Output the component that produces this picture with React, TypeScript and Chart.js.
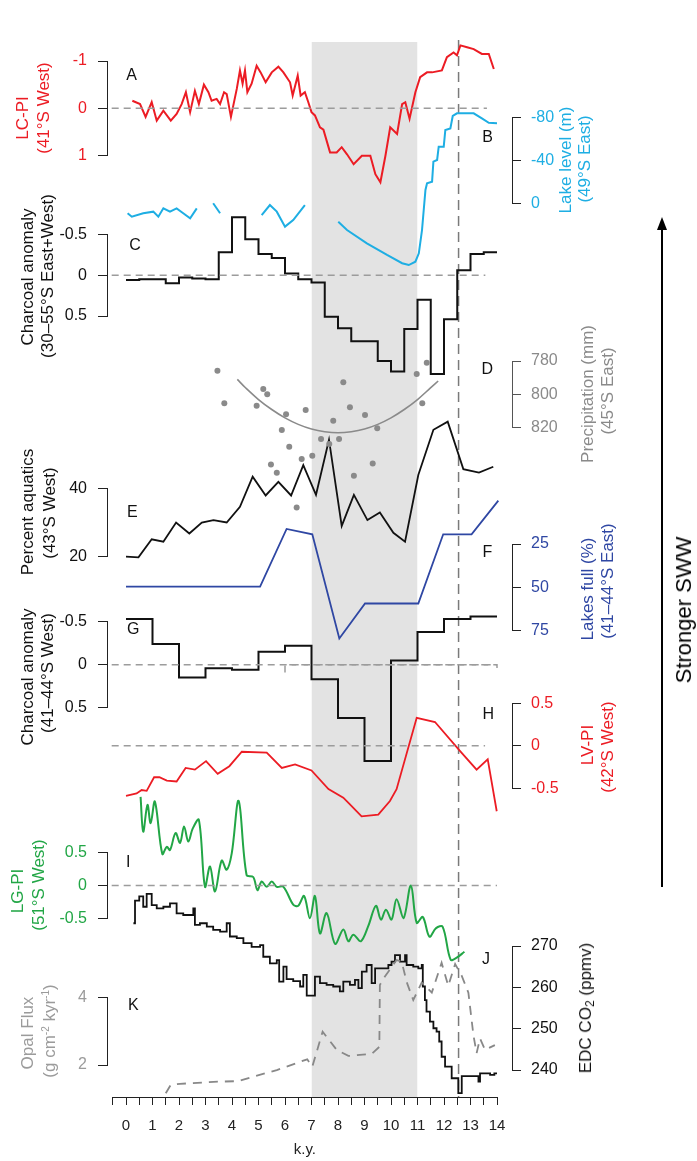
import React, { useEffect, useRef } from 'react';
import { Chart, registerables } from 'chart.js';

Chart.register(...registerables);

const FONT = '"Liberation Sans", Arial, Helvetica, sans-serif';
Chart.defaults.font.family = FONT;

// ---------------- data (ages in k.y.) ----------------
const xTickValues = [-0.5, 0, 0.5, 1, 1.5, 2, 2.5, 3, 3.5, 4, 4.5, 5, 5.5, 6, 6.5, 7, 7.5, 8, 8.5, 9, 9.5, 10, 10.5, 11, 11.5, 12, 12.5, 13, 13.5, 14];
const xTickLabels = ['0', '1', '2', '3', '4', '5', '6', '7', '8', '9', '10', '11', '12', '13', '14'];

const shadedInterval = [7, 11];
const markerAge = 12.55;

// A  LC-PI (41°S West)
const lcPiAge = [0.24, 0.53, 0.74, 0.97, 1.16, 1.41, 1.69, 1.91, 2.1, 2.26, 2.42, 2.6, 2.75, 2.94, 3.11, 3.23, 3.42, 3.55, 3.7, 3.8, 3.96, 4.18, 4.3, 4.4, 4.49, 4.58, 4.74, 4.93, 5.08, 5.27, 5.5, 5.75, 5.94, 6.19, 6.29, 6.48, 6.59, 6.75, 6.88, 7.0, 7.13, 7.32, 7.45, 7.7, 7.95, 8.14, 8.34, 8.59, 8.9, 9.22, 9.41, 9.6, 9.79, 9.97, 10.23, 10.42, 10.54, 10.7, 10.92, 11.1, 11.36, 11.55, 11.92, 12.11, 12.36, 12.49, 12.62, 12.87, 13.12, 13.43, 13.69, 13.88];
const lcPiValue = [-0.16, -0.09, 0.18, -0.13, 0.26, 0.05, 0.26, 0.12, -0.09, -0.34, 0.08, -0.37, -0.09, -0.5, -0.34, -0.16, -0.2, -0.09, -0.34, -0.3, 0.18, -0.41, -0.8, -0.52, -0.8, -0.34, -0.52, -0.9, -0.76, -0.55, -0.76, -0.88, -0.76, -0.55, -0.27, -0.69, -0.27, -0.34, -0.13, 0.08, 0.15, 0.4, 0.45, 0.93, 0.93, 0.82, 0.97, 1.18, 1.0, 1.0, 1.39, 1.56, 1.0, 0.4, 0.54, -0.09, -0.13, 0.22, -0.34, -0.66, -0.76, -0.76, -0.8, -1.08, -1.18, -1.12, -1.33, -1.29, -1.25, -1.15, -1.15, -0.83];
const lcPiTicks = [-1, 0, 1];
const lcPiZero = [-0.54, 13.62];

// B  Lake level (m) (49°S East)
const lakeLevelAge = [0.06, 0.22, 0.65, 1.03, 1.22, 1.41, 1.66, 1.91, 2.16, 2.42, 2.67, 3.0, 3.29, 3.55, 4.5, 5.12, 5.43, 5.69, 6.0, 6.31, 6.75, 7.5, 8.01, 8.34, 9.09, 9.85, 10.42, 10.67, 10.92, 11.05, 11.17, 11.3, 11.36, 11.55, 11.6, 11.74, 11.8, 11.99, 12.05, 12.24, 12.33, 12.49, 13.12, 13.43, 13.69, 14.0];
const lakeLevelValue = [9.3, 12.5, 9.3, 7.8, 12.5, 4.7, 7.8, 4.7, 9.3, 14, 4.7, null, 0, 9.3, null, 11, 1.6, 7.8, 21.8, 15.6, 1.6, null, 17.2, 25, 37.4, 48.3, 56, 57.7, 54.6, 46.7, 25, -12.4, -18.7, -20.2, -38.9, -40.5, -52.9, -52.9, -68.5, -70, -81.6, -84.1, -84.1, -79.4, -75.3, -74.8];
const lakeLevelTicks = [-80, -40, 0];

// C  Charcoal anomaly (30–55°S East+West)
const charcoalAllAge = [0, 0.5, 1.0, 1.5, 2.0, 2.5, 3.0, 3.5, 4.0, 4.5, 5.0, 5.5, 6.0, 6.5, 7.0, 7.5, 8.0, 8.5, 9.0, 9.5, 10.0, 10.5, 11.0, 11.5, 12.0, 12.5, 13.0, 13.5, 14.0];
const charcoalAllValue = [0.06, 0.05, 0.05, 0.1, 0.03, 0.04, 0.05, -0.28, -0.71, -0.44, -0.26, -0.21, -0.02, 0.05, 0.09, 0.51, 0.65, 0.81, 0.81, 1.05, 1.18, 0.66, 0.3, 1.21, 0.54, -0.06, -0.26, -0.28, -0.28];
const charcoalTicks = [-0.5, 0, 0.5];
const charcoalAllZero = [-0.54, 13.56];

// D  Precipitation (mm) (45°S East)
const precipFitAge = [4.2, 4.5, 5, 5.5, 6, 6.5, 7, 7.5, 8, 8.5, 9, 9.5, 10, 10.5, 11, 11.5, 11.78];
const precipFitValue = [791, 795.9, 803.1, 809.1, 814.1, 818, 820.8, 822.4, 823, 822.4, 820.8, 818, 814.1, 809.1, 803.1, 796, 792];
const precipObsAge = [3.45, 3.71, 4.93, 5.18, 5.33, 5.47, 5.69, 5.88, 6.04, 6.16, 6.44, 6.63, 6.78, 7.03, 7.36, 7.67, 7.82, 8.04, 8.2, 8.45, 8.6, 9.02, 9.31, 9.48, 10.97, 11.18, 11.35];
const precipObsValue = [785.8, 805.4, 806.8, 796.8, 800, 842, 847, 821.4, 812, 831.4, 867.8, 838.8, 809.4, 836.8, 826.8, 829.8, 815.8, 826.8, 792.8, 807.8, 848.8, 812.4, 841.4, 820.4, 787.8, 805.4, 781];
const precipTicks = [780, 800, 820];
const precipObsRange = [770, 880];

// E  Percent aquatics (43°S West)
const aquaticsAge = [0, 0.47, 0.97, 1.41, 1.89, 2.39, 2.86, 3.3, 3.8, 4.3, 4.78, 5.27, 5.75, 6.23, 6.69, 7.17, 7.66, 8.14, 8.6, 9.11, 9.58, 10.09, 10.53, 11.03, 11.6, 12.14, 12.73, 13.32, 13.86];
const aquaticsValue = [20, 19.8, 25.1, 24.4, 30, 26.8, 30, 30.7, 30, 34.6, 43.4, 37.9, 41.9, 37.9, 46.8, 38.1, 54.2, 29, 38.1, 30.7, 32.9, 27, 24.4, 43.9, 57.1, 59.5, 45.6, 44.6, 46.3];
const aquaticsTicks = [20, 40];

// F  Lakes full (%) (41–44°S East)
const lakesFullAge = [0, 5.06, 6.06, 7.03, 8.05, 9.02, 11.03, 11.97, 13.04, 14.05];
const lakesFullValue = [49.6, 49.6, 16.3, 19.4, 79.5, 59.3, 59.3, 19.4, 19.4, 0];
const lakesFullTicks = [25, 50, 75];

// G  Charcoal anomaly (41–44°S West)
const charcoalWestAge = [0, 1, 2, 3, 4, 5, 6, 7, 8, 9, 10, 11, 12, 13, 14];
const charcoalWestValue = [-0.53, -0.24, 0.15, 0.04, 0.06, -0.15, -0.22, 0.17, 0.62, 1.12, -0.05, -0.38, -0.53, -0.56, -0.56];
const charcoalWestZero = [-0.54, 14.0];
const charcoalWestBracketAge = [6.0, 6.0, 14.0, 14.0];
const charcoalWestBracketValue = [0.09, 0, 0, 0.09];

// H  LV-PI (42°S West)
const lvPiAge = [0, 0.4, 0.59, 0.78, 1.06, 1.26, 1.54, 1.91, 2.25, 2.6, 3.02, 3.46, 3.9, 4.37, 5.31, 5.88, 6.38, 7.0, 7.64, 8.2, 8.45, 8.89, 9.52, 9.96, 10.21, 10.97, 11.66, 12.6, 13.23, 13.65, 13.99];
const lvPiValue = [-0.59, -0.56, -0.52, -0.53, -0.37, -0.37, -0.41, -0.42, -0.26, -0.28, -0.18, -0.33, -0.24, -0.07, -0.08, -0.26, -0.22, -0.29, -0.51, -0.61, -0.69, -0.83, -0.81, -0.65, -0.51, 0.33, 0.28, -0.06, -0.28, -0.16, -0.77];
const lvPiTicks = [-0.5, 0, 0.5];
const lvPiZero = [-0.54, 13.55];

// I  LG-PI (51°S West)
const lgPiAge = [0.55, 0.65, 0.81, 0.93, 1.09, 1.37, 1.54, 1.66, 1.87, 2.04, 2.19, 2.35, 2.52, 2.75, 2.98, 3.17, 3.36, 3.61, 3.8, 3.99, 4.25, 4.55, 4.8, 4.96, 5.12, 5.31, 5.5, 5.69, 5.94, 6.31, 6.5, 6.72, 6.94, 7.13, 7.32, 7.57, 7.89, 8.2, 8.39, 8.58, 8.86, 9.14, 9.43, 9.62, 9.81, 10.02, 10.21, 10.47, 10.75, 10.97, 11.2, 11.45, 11.7, 11.95, 12.25, 12.48, 12.77];
const lgPiValue = [1.35, 0.82, 1.23, 0.95, 1.28, 0.48, 0.59, 0.54, 0.8, 0.65, 0.9, 0.67, 0.87, 1.0, -0.02, 0.29, -0.09, 0.38, 0.24, 0.49, 1.29, 0.16, 0.13, -0.07, 0.06, -0.02, 0.06, -0.02, -0.02, -0.29, -0.31, -0.16, -0.5, -0.16, -0.73, -0.42, -0.89, -0.67, -0.85, -0.75, -0.85, -0.62, -0.31, -0.52, -0.37, -0.52, -0.21, -0.5, 0.0, -0.57, -0.48, -0.78, -0.65, -0.63, -1.13, -1.1, -1.01];
const lgPiTicks = [-0.5, 0, 0.5];
const lgPiZero = [-0.54, 14.0];

// J  EDC CO2 (ppmv)
const co2Age = [0.28, 0.34, 0.5, 0.65, 0.78, 0.97, 1.16, 1.41, 1.66, 1.91, 2.16, 2.54, 2.6, 2.79, 3.05, 3.29, 3.55, 3.8, 3.92, 4.18, 4.43, 4.74, 5.06, 5.18, 5.43, 5.69, 5.78, 5.94, 6.06, 6.31, 6.57, 6.69, 6.82, 7.13, 7.32, 7.57, 7.82, 8.07, 8.2, 8.45, 8.64, 8.77, 8.9, 9.08, 9.27, 9.4, 9.9, 10.02, 10.15, 10.34, 10.53, 10.59, 10.84, 11.03, 11.16, 11.2, 11.28, 11.34, 11.47, 11.6, 11.72, 11.82, 11.91, 12.04, 12.29, 12.54, 12.67, 13.3, 13.36, 13.74, 13.9, 14.0];
const co2Value = [275.5, 281, 282, 279.5, 282.6, 279.9, 279.1, 279.5, 280.3, 277.9, 277.5, 279.1, 275.1, 275.5, 274.7, 273.9, 273.5, 275.5, 272.3, 271.9, 270.7, 269.8, 270.2, 267.4, 265.8, 266.6, 261.4, 265, 262, 261.5, 260.2, 263, 258, 262.6, 261, 260.6, 260.2, 259, 261.4, 260.6, 261.8, 259.8, 263.8, 265.4, 261, 264.6, 265.4, 266.2, 267.8, 266.2, 267.8, 265.4, 265, 264.6, 265.4, 260.2, 256.9, 254.1, 251.7, 250.1, 249.3, 246.9, 243.2, 240.8, 238, 234.4, 238.5, 237.2, 239.2, 238.8, 239.2, 239.2];
const co2Ticks = [240, 250, 260, 270];

// K  Opal flux (g cm-2 kyr-1)
const opalAge = [1.5, 1.69, 2.04, 3.3, 4.24, 4.8, 5.69, 6.84, 7.03, 7.42, 7.95, 8.39, 9.27, 9.56, 9.58, 9.77, 10.21, 10.4, 10.59, 10.84, 11.16, 11.54, 11.91, 12.16, 12.42, 12.67, 12.92, 13.11, 13.23, 13.36, 13.55, 13.92];
const opalValue = [1.16, 1.41, 1.44, 1.5, 1.52, 1.65, 1.85, 2.17, 1.95, 2.99, 2.45, 2.27, 2.33, 2.54, 4.38, 4.63, 5.12, 5.08, 4.47, 3.93, 4.45, 4.15, 5.04, 4.35, 5.0, 4.65, 4.15, 2.89, 2.35, 2.79, 2.45, 2.59];
const opalTicks = [2, 4];

// ---------------- layout & style ----------------
const W = 697;
const H = 1161;
const AGE0_PX = 126;
const PX_PER_KY = 26.5;
const PLOT_LEFT = 107;
const PLOT_RIGHT = 512;
const XAXIS_Y = 1097;
const pxToAge = (px: number) => (px - AGE0_PX) / PX_PER_KY;

const RED = '#ec1c24';
const CYAN = '#1eaee3';
const BLUE = '#2f47a3';
const GREEN = '#22a646';
const BLACK = '#111111';
const AXIS = '#222222';
const DGRAY = '#8a8a8a';
const KGRAY = '#9b9b9b';
const ZERO_GRAY = '#9c9c9c';
const BAND = '#e3e3e3';

const pts = (ages: number[], values: (number | null)[]) => ages.map((a, i) => ({ x: a, y: values[i] }));
const lineDs = (ages: number[], values: (number | null)[], color: string, width: number, extra: any = {}) => ({
  data: pts(ages, values),
  borderColor: color,
  backgroundColor: color,
  borderWidth: width,
  pointRadius: 0,
  clip: false,
  tension: 0,
  fill: false,
  ...extra,
});
const zeroDs = (extent: number[]) => lineDs(extent, [0, 0], ZERO_GRAY, 1.5, { borderDash: [7, 5] });

interface PanelSpec {
  side: 'left' | 'right';
  top: number;
  bottom: number;
  min: number;
  max: number;
  reverse: boolean;
  ticks: number[];
  tickColor: string;
  axisColor: string;
  datasets: any[];
}

const baseOptions = {
  responsive: false,
  maintainAspectRatio: false,
  animation: false,
  events: [],
  devicePixelRatio: 1,
  plugins: { legend: { display: false }, tooltip: { enabled: false } },
};

const hiddenX = () => ({ type: 'linear', display: false, min: pxToAge(PLOT_LEFT), max: pxToAge(PLOT_RIGHT) });

function panelConfig(p: PanelSpec): any {
  return {
    type: 'line',
    data: { datasets: p.datasets },
    options: {
      ...baseOptions,
      layout: {
        padding: {
          top: p.top,
          bottom: H - p.bottom,
          left: p.side === 'left' ? 0 : PLOT_LEFT,
          right: p.side === 'right' ? 0 : W - PLOT_RIGHT,
        },
      },
      scales: {
        x: hiddenX(),
        y: {
          type: 'linear',
          position: p.side,
          min: p.min,
          max: p.max,
          reverse: p.reverse,
          afterFit: (s: any) => {
            s.width = p.side === 'left' ? PLOT_LEFT : W - PLOT_RIGHT;
          },
          afterBuildTicks: (s: any) => {
            s.ticks = p.ticks.map((v) => ({ value: v }));
          },
          ticks: {
            color: p.tickColor,
            font: { size: 16 },
            padding: p.side === 'left' ? 11 : 10,
            autoSkip: false,
            callback: (v: any) => String(v),
          },
          grid: { drawOnChartArea: false, drawTicks: true, tickLength: 9, color: p.axisColor, lineWidth: 1 },
          border: { display: true, color: p.axisColor, width: 1 },
        },
      },
    },
  };
}

// Same value->pixel mapping as a panel, but over a wider value range with no visible axis,
// so that point marks outside the axis span are still drawn.
function pointOverlayConfig(p: PanelSpec, range: number[], datasets: any[]): any {
  const ppu = (p.bottom - p.top) / (p.max - p.min);
  const pix = (v: number) => (p.reverse ? p.top + (v - p.min) * ppu : p.bottom - (v - p.min) * ppu);
  const top = Math.min(pix(range[0]), pix(range[1]));
  const bottom = Math.max(pix(range[0]), pix(range[1]));
  return {
    type: 'line',
    data: { datasets },
    options: {
      ...baseOptions,
      layout: { padding: { top, bottom: H - bottom, left: PLOT_LEFT, right: W - PLOT_RIGHT } },
      scales: {
        x: hiddenX(),
        y: { type: 'linear', display: false, min: range[0], max: range[1], reverse: p.reverse },
      },
    },
  };
}

function backgroundConfig(): any {
  return {
    type: 'line',
    data: {
      datasets: [
        lineDs(shadedInterval, [1, 1], 'rgba(0,0,0,0)', 0, { fill: 'origin', backgroundColor: BAND }),
        lineDs([markerAge, markerAge], [1.002, 0], '#7a7a7a', 1.5, { borderDash: [10, 6] }),
      ],
    },
    options: {
      ...baseOptions,
      layout: { padding: { top: 42, bottom: H - XAXIS_Y, left: PLOT_LEFT, right: W - PLOT_RIGHT } },
      scales: {
        x: hiddenX(),
        y: { type: 'linear', display: false, min: 0, max: 1 },
      },
    },
  };
}

function xAxisConfig(): any {
  const left = AGE0_PX + xTickValues[0] * PX_PER_KY;
  const right = AGE0_PX + xTickValues[xTickValues.length - 1] * PX_PER_KY;
  return {
    type: 'line',
    data: { datasets: [] },
    options: {
      ...baseOptions,
      layout: { padding: { top: 900, bottom: 0, left: left, right: W - right } },
      scales: {
        x: {
          type: 'linear',
          position: 'bottom',
          min: xTickValues[0],
          max: xTickValues[xTickValues.length - 1],
          afterBuildTicks: (s: any) => {
            s.ticks = xTickValues.map((v) => ({ value: v }));
          },
          afterFit: (s: any) => {
            s.height = H - XAXIS_Y;
          },
          ticks: {
            color: AXIS,
            font: { size: 15 },
            padding: 12,
            maxRotation: 0,
            autoSkip: false,
            callback: (v: any) => (Number.isInteger(v) && v >= 0 ? xTickLabels[v] : ''),
          },
          grid: { drawOnChartArea: false, drawTicks: true, tickLength: 8, color: AXIS, lineWidth: 1 },
          border: { display: true, color: AXIS, width: 1 },
          title: { display: true, text: 'k.y.', color: AXIS, font: { size: 15 }, padding: { top: 0, bottom: 2 } },
        },
        y: { type: 'linear', display: false, min: 0, max: 1 },
      },
    },
  };
}

function buildConfigs(): any[] {
  const precipPanel: PanelSpec = {
    side: 'right', top: 361, bottom: 427.7, min: 780, max: 820, reverse: true, ticks: precipTicks, tickColor: DGRAY, axisColor: '#555555',
    datasets: [lineDs(precipFitAge, precipFitValue, DGRAY, 1.6, { tension: 0.4 })],
  };
  const panels: PanelSpec[] = [
    { side: 'left', top: 61, bottom: 155.7, min: -1, max: 1, reverse: true, ticks: lcPiTicks, tickColor: RED, axisColor: AXIS,
      datasets: [zeroDs(lcPiZero), lineDs(lcPiAge, lcPiValue, RED, 2)] },
    { side: 'right', top: 117.7, bottom: 203.3, min: -80, max: 0, reverse: true, ticks: lakeLevelTicks, tickColor: CYAN, axisColor: AXIS,
      datasets: [lineDs(lakeLevelAge, lakeLevelValue, CYAN, 2)] },
    { side: 'left', top: 234.3, bottom: 316, min: -0.5, max: 0.5, reverse: true, ticks: charcoalTicks, tickColor: BLACK, axisColor: AXIS,
      datasets: [zeroDs(charcoalAllZero), lineDs(charcoalAllAge, charcoalAllValue, BLACK, 2, { stepped: 'before' })] },
    precipPanel,
    { side: 'left', top: 488.3, bottom: 556.7, min: 20, max: 40, reverse: false, ticks: aquaticsTicks, tickColor: BLACK, axisColor: AXIS,
      datasets: [lineDs(aquaticsAge, aquaticsValue, BLACK, 1.8)] },
    { side: 'right', top: 544, bottom: 630.7, min: 25, max: 75, reverse: true, ticks: lakesFullTicks, tickColor: BLUE, axisColor: AXIS,
      datasets: [lineDs(lakesFullAge, lakesFullValue, BLUE, 1.8)] },
    { side: 'left', top: 621.7, bottom: 707.7, min: -0.5, max: 0.5, reverse: true, ticks: charcoalTicks, tickColor: BLACK, axisColor: AXIS,
      datasets: [
        zeroDs(charcoalWestZero),
        lineDs(charcoalWestBracketAge, charcoalWestBracketValue, ZERO_GRAY, 1.5, { borderDash: [7, 5] }),
        lineDs(charcoalWestAge, charcoalWestValue, BLACK, 2, { stepped: 'before' }),
      ] },
    { side: 'right', top: 703.3, bottom: 788.3, min: -0.5, max: 0.5, reverse: false, ticks: lvPiTicks, tickColor: RED, axisColor: AXIS,
      datasets: [zeroDs(lvPiZero), lineDs(lvPiAge, lvPiValue, RED, 1.8)] },
    { side: 'left', top: 852.7, bottom: 918.3, min: -0.5, max: 0.5, reverse: false, ticks: lgPiTicks, tickColor: GREEN, axisColor: AXIS,
      datasets: [zeroDs(lgPiZero), lineDs(lgPiAge, lgPiValue, GREEN, 2, { tension: 0.35 })] },
    { side: 'right', top: 946, bottom: 1070, min: 240, max: 270, reverse: false, ticks: co2Ticks, tickColor: BLACK, axisColor: AXIS,
      datasets: [lineDs(co2Age, co2Value, BLACK, 1.8, { stepped: 'before' })] },
    { side: 'left', top: 997.7, bottom: 1065, min: 2, max: 4, reverse: false, ticks: opalTicks, tickColor: KGRAY, axisColor: AXIS,
      datasets: [lineDs(opalAge, opalValue, '#888888', 1.8, { borderDash: [9, 7] })] },
  ];
  const precipDots = pointOverlayConfig(precipPanel, precipObsRange, [
    lineDs(precipObsAge, precipObsValue, DGRAY, 0, { showLine: false, pointRadius: 3, pointBorderWidth: 0, pointBackgroundColor: DGRAY }),
  ]);
  return [backgroundConfig(), ...panels.map(panelConfig), precipDots, xAxisConfig()];
}

const CHART_COUNT = 14;

// ---------------- text overlays ----------------
type TitleLine = [React.ReactNode, number, number, string];
const titleLines: TitleLine[] = [
  ['LC-PI', 21.7, 118, RED],
  ['(41°S West)', 43, 108, RED],
  ['Lake level (m)', 565.3, 160, CYAN],
  ['(49°S East)', 584.3, 159, CYAN],
  ['Charcoal anomaly', 26.7, 276.7, BLACK],
  ['(30–55°S East+West)', 46.7, 275.8, BLACK],
  ['Precipitation (mm)', 587, 394, DGRAY],
  ['(45°S East)', 607, 391, DGRAY],
  ['Percent aquatics', 26.7, 511.7, BLACK],
  ['(43°S West)', 48.5, 512.5, BLACK],
  ['Lakes full (%)', 586.7, 588.5, BLUE],
  ['(41–44°S East)', 606.7, 580.5, BLUE],
  ['Charcoal anomaly', 26.7, 676.7, BLACK],
  ['(41–44°S West)', 46.7, 673.3, BLACK],
  ['LV-PI', 586.7, 745, RED],
  ['(42°S West)', 606.7, 746.7, RED],
  ['LG-PI', 16.7, 890.8, GREEN],
  ['(51°S West)', 38.3, 885, GREEN],
  [<span key="co2">EDC CO<sub style={{ fontSize: 12, verticalAlign: '-3px' }}>2</sub> (ppmv)</span>, 588.3, 1007.5, BLACK],
  ['Opal Flux', 26.7, 1032.5, KGRAY],
  [<span key="opal">(g cm<sup style={{ fontSize: 10, verticalAlign: '6px' }}>-2</sup> kyr<sup style={{ fontSize: 10, verticalAlign: '6px' }}>-1</sup>)</span>, 46.7, 1030.8, KGRAY],
];

const panelLetters: [string, number, number][] = [
  ['A', 131.7, 75],
  ['B', 487.7, 136.7],
  ['C', 135, 245],
  ['D', 487.3, 369.3],
  ['E', 132.3, 511.7],
  ['F', 487.3, 551.7],
  ['G', 133.3, 629.3],
  ['H', 488.3, 714],
  ['I', 128.3, 861.7],
  ['J', 486, 959.3],
  ['K', 133.3, 1005],
];

export default function App() {
  const refs = useRef<(HTMLCanvasElement | null)[]>([]);

  useEffect(() => {
    const configs = buildConfigs();
    const charts = configs.map((cfg, i) => new Chart(refs.current[i] as HTMLCanvasElement, cfg));
    return () => {
      charts.forEach((c) => c.destroy());
    };
  }, []);

  const canvases = [];
  for (let i = 0; i < CHART_COUNT; i++) {
    canvases.push(
      <canvas
        key={i}
        ref={(el) => {
          refs.current[i] = el;
        }}
        width={W}
        height={H}
        style={{ position: 'absolute', left: 0, top: 0, width: W, height: H }}
      />
    );
  }

  return (
    <div style={{ position: 'absolute', left: 0, top: 0, width: W, height: H, background: '#ffffff', overflow: 'hidden', fontFamily: FONT }}>
      {canvases}
      {titleLines.map(([text, x, y, color], i) => (
        <div
          key={'t' + i}
          style={{
            position: 'absolute',
            left: x,
            top: y,
            transform: 'translate(-50%, -50%) rotate(-90deg)',
            whiteSpace: 'nowrap',
            fontSize: 17,
            lineHeight: '17px',
            color,
          }}
        >
          {text}
        </div>
      ))}
      {panelLetters.map(([t, x, y]) => (
        <div
          key={'l' + t}
          style={{ position: 'absolute', left: x, top: y, transform: 'translate(-50%, -50%)', fontSize: 16, lineHeight: '16px', color: BLACK }}
        >
          {t}
        </div>
      ))}
      <div style={{ position: 'absolute', left: 661, top: 227, width: 2, height: 660, background: '#000' }} />
      <div
        style={{
          position: 'absolute',
          left: 656.5,
          top: 217,
          width: 0,
          height: 0,
          borderLeft: '5.5px solid transparent',
          borderRight: '5.5px solid transparent',
          borderBottom: '13px solid #000',
        }}
      />
      <div
        style={{
          position: 'absolute',
          left: 684,
          top: 610,
          transform: 'translate(-50%, -50%) rotate(-90deg)',
          whiteSpace: 'nowrap',
          fontSize: 22,
          lineHeight: '22px',
          color: '#000',
        }}
      >
        Stronger SWW
      </div>
    </div>
  );
}
